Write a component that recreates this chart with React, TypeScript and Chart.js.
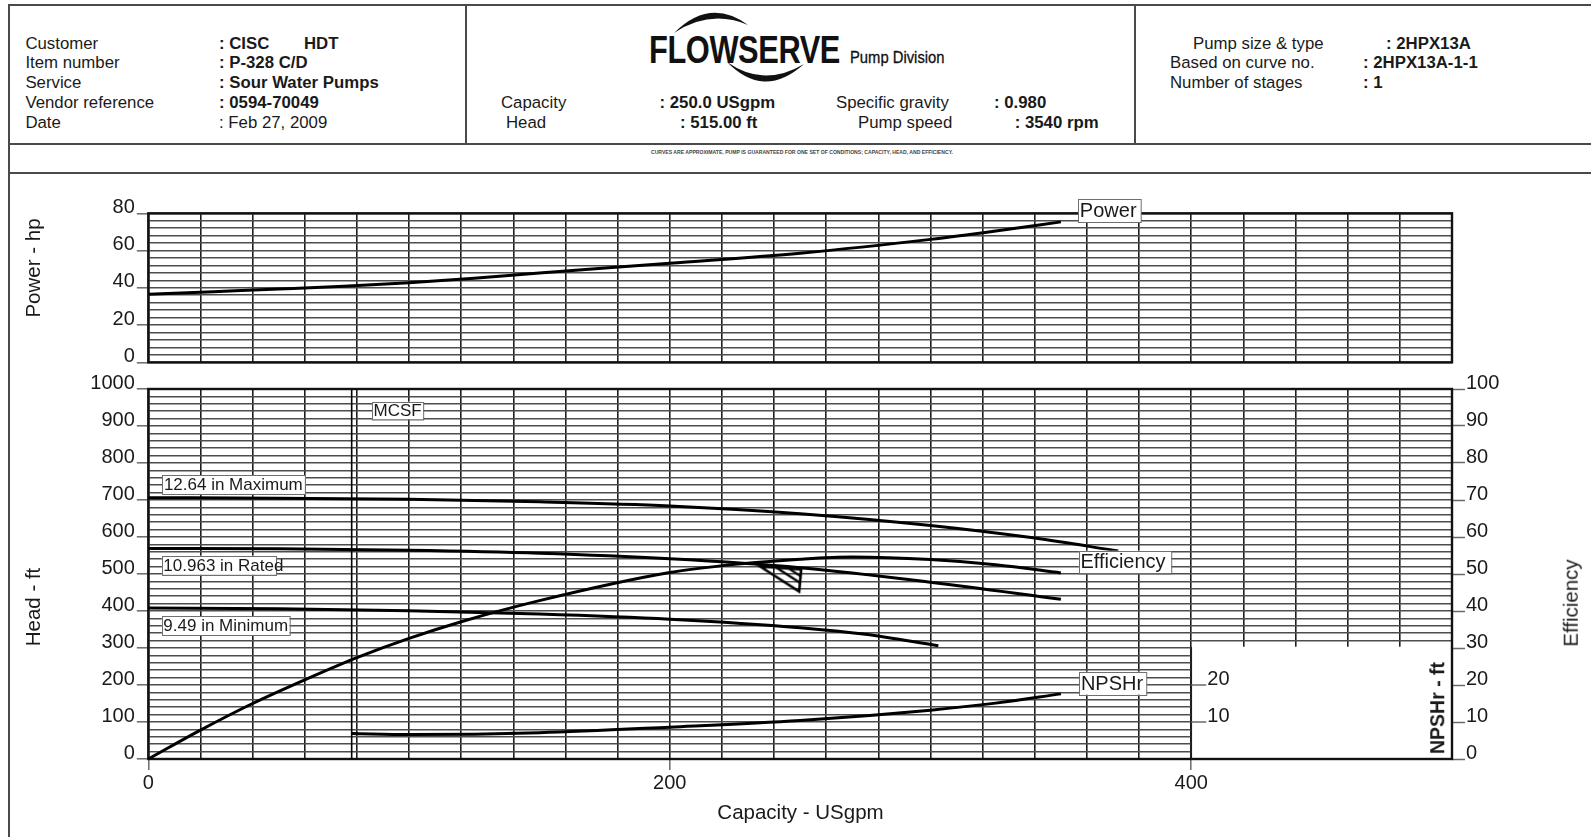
import React, { useEffect, useRef } from 'react';
import { Chart, registerables } from 'chart.js';

Chart.register(...registerables);

const FONT = '"Liberation Sans", Arial, Helvetica, sans-serif';

// ---------------- data ----------------
const powerCapacity = [0, 25, 50, 75, 100, 125, 150, 200, 250, 300, 325, 350];
const powerHp = [36.5, 37.9, 39.3, 40.8, 42.7, 45.1, 47.9, 53.2, 58.6, 66.0, 70.5, 75.4];

const maxCapacity = [0, 50, 100, 150, 200, 250, 300, 340, 372];
const maxHead = [706, 705, 702, 695, 684, 663, 631, 597, 562];

const ratedCapacity = [0, 50, 100, 150, 200, 250, 300, 350];
const ratedHead = [569, 568, 564, 556, 541, 517, 478, 432];

const minCapacity = [0, 50, 100, 150, 200, 250, 275, 303];
const minHead = [408, 406, 401, 392, 378, 355, 337, 306];

const effCapacity = [0, 20, 40, 60, 80, 100, 120, 150, 200, 225, 250, 270, 300, 325, 350];
const efficiency = [0, 7.8, 15, 21.4, 27.4, 32.6, 37.1, 42.8, 50.4, 52.6, 54.0, 54.6, 53.9, 52.5, 50.3];

const npshCapacity = [78, 100, 150, 200, 250, 300, 325, 350];
const npshr = [6.9, 6.6, 7.1, 8.6, 10.4, 13.2, 15.1, 17.6];

const mcsfCapacity = [78, 78];
const mcsfHead = [0, 1000];

const dutyCapacity = [250];
const dutyHead = [515];

const capacityTickLabels = [0, 200, 400];
const npshTickLabels = [10, 20];

// annotation boxes (anchored in data units)
const headLabelItems = [
  { text: '12.64 in Maximum', x: 5.4, y: 767.6, scaleId: 'y', size: 17, h: 19, extra: 2 },
  { text: '10.963 in Rated', x: 5.2, y: 549.5, scaleId: 'y', size: 17, h: 19, extra: -8 },
  { text: '9.49 in Minimum', x: 5.2, y: 386.5, scaleId: 'y', size: 17, h: 19, extra: 1 },
  { text: 'MCSF', x: 85.8, y: 965.7, scaleId: 'y', size: 17, h: 17.5, extra: 1 },
  { text: 'Efficiency', x: 356.9, y: 56.3, scaleId: 'eff', size: 20, h: 22.5, extra: 5 },
  { text: 'NPSHr', x: 357.1, y: 23.6, scaleId: 'eff', size: 20, h: 23, extra: 3 },
];
const powerLabelItems = [
  { text: 'Power', x: 356.7, y: 87.5, scaleId: 'y', size: 20, h: 23, extra: 4 },
];

const TXT = '#1a1a1a';
const HGRID = '#4d4d4d';
const VGRID = '#1e1e1e';
const TICK = '#6a6a6a';
const CLEAR = 'rgba(0,0,0,0)';

function pts(xs: number[], ys: number[]) {
  return xs.map((x, i) => ({ x, y: ys[i] }));
}

function makeDutyMarker() {
  const c = document.createElement('canvas');
  c.width = 100;
  c.height = 60;
  const g = c.getContext('2d') as CanvasRenderingContext2D;
  const cx = 50, cy = 30;
  const A = [cx - 40, cy - 2];
  const B = [cx + 1, cy + 1];
  const C = [cx - 1, cy + 23];
  g.strokeStyle = '#000';
  g.lineWidth = 2.6;
  g.lineJoin = 'miter';
  g.beginPath();
  g.moveTo(A[0], A[1]);
  g.lineTo(B[0], B[1]);
  g.lineTo(C[0], C[1]);
  g.closePath();
  g.stroke();
  g.lineWidth = 2.2;
  for (const t of [0.4, 0.7]) {
    const p = [A[0] + (B[0] - A[0]) * t, A[1] + (B[1] - A[1]) * t];
    const q = [C[0] + (B[0] - C[0]) * t, C[1] + (B[1] - C[1]) * t];
    g.beginPath();
    g.moveTo(p[0], p[1]);
    g.lineTo(q[0], q[1]);
    g.stroke();
  }
  return c;
}

function labelPlugin(items: any[]) {
  return {
    id: 'curveLabels',
    afterDatasetsDraw(chart: any) {
      const { ctx, scales } = chart;
      ctx.save();
      for (const l of items) {
        const x = scales.x.getPixelForValue(l.x);
        const y = scales[l.scaleId].getPixelForValue(l.y);
        ctx.font = `${l.size}px ${FONT}`;
        const tw = ctx.measureText(l.text).width;
        const w = tw + l.extra + 2;
        ctx.fillStyle = '#ffffff';
        ctx.fillRect(x, y, w, l.h);
        ctx.strokeStyle = '#6f6f6f';
        ctx.lineWidth = 1;
        ctx.strokeRect(Math.round(x) + 0.5, Math.round(y) + 0.5, w, l.h);
        ctx.fillStyle = TXT;
        ctx.textAlign = 'left';
        ctx.textBaseline = 'middle';
        ctx.fillText(l.text, x + 1.5, y + l.h / 2 + 1);
      }
      ctx.restore();
    },
  };
}

function framePlugin(withNpshBox: boolean) {
  return {
    id: 'frame',
    beforeDatasetsDraw(chart: any) {
      const { ctx, chartArea: a, scales } = chart;
      ctx.save();
      if (withNpshBox) {
        const x0 = scales.x.getPixelForValue(400);
        const y0 = scales.y.getPixelForValue(300) - 1.3;
        ctx.fillStyle = '#ffffff';
        ctx.fillRect(x0, y0, a.right - x0, a.bottom - y0);
        ctx.strokeStyle = VGRID;
        ctx.lineWidth = 1.6;
        ctx.beginPath();
        ctx.moveTo(x0, y0);
        ctx.lineTo(x0, a.bottom);
        ctx.stroke();
      }
      ctx.strokeStyle = '#111';
      ctx.lineWidth = 2.4;
      ctx.strokeRect(a.left, a.top, a.right - a.left, a.bottom - a.top);
      ctx.restore();
    },
    afterDatasetsDraw(chart: any) {
      if (!withNpshBox) return;
      const { ctx, scales } = chart;
      const x0 = scales.x.getPixelForValue(400);
      ctx.save();
      ctx.font = `20px ${FONT}`;
      ctx.fillStyle = TXT;
      ctx.textAlign = 'left';
      ctx.textBaseline = 'middle';
      for (const v of npshTickLabels) {
        const y = scales.npsh.getPixelForValue(v);
        ctx.strokeStyle = TICK;
        ctx.lineWidth = 1.5;
        ctx.beginPath();
        ctx.moveTo(x0, y);
        ctx.lineTo(x0 + 15, y);
        ctx.stroke();
        ctx.fillText(String(v), x0 + 16, y - 6);
      }
      ctx.restore();
    },
  };
}

const tickFont = { family: FONT, size: 20 };

function xScale(showLabels: boolean, height: number) {
  return {
    type: 'linear',
    position: 'bottom',
    min: 0,
    max: 500,
    afterFit: (s: any) => {
      s.height = height;
    },
    grid: {
      color: VGRID,
      lineWidth: 1.6,
      drawTicks: showLabels,
      tickLength: 11,
      tickWidth: 1.5,
      tickColor: (c: any) => (c.tick && capacityTickLabels.includes(c.tick.value) ? TICK : CLEAR),
    },
    border: { display: false },
    ticks: {
      display: showLabels,
      stepSize: 20,
      autoSkip: false,
      maxTicksLimit: 1000,
      maxRotation: 0,
      padding: 1,
      color: TXT,
      font: tickFont,
      callback: (v: any) => (capacityTickLabels.includes(v) ? String(v) : ''),
    },
  };
}

const curve = {
  borderColor: '#000',
  borderWidth: 3,
  pointRadius: 0,
  cubicInterpolationMode: 'monotone',
  fill: false,
};

function HText(props: { x: number; y: number; t: string; b?: boolean }) {
  return (
    <div
      style={{
        position: 'absolute',
        left: props.x,
        top: props.y - 10,
        lineHeight: '20px',
        fontSize: 16.8,
        fontWeight: props.b ? 700 : 400,
        whiteSpace: 'pre',
        color: TXT,
        fontFamily: FONT,
      }}
    >
      {props.t}
    </div>
  );
}

function Title(props: { x: number; y: number; t: string; rot?: boolean; size?: number; b?: boolean }) {
  return (
    <div
      style={{
        position: 'absolute',
        left: props.x,
        top: props.y,
        transform: props.rot ? 'translate(-50%,-50%) rotate(-90deg)' : 'translate(-50%,-50%)',
        whiteSpace: 'nowrap',
        fontSize: props.size ?? 20.5,
        lineHeight: 1,
        fontWeight: props.b ? 700 : 400,
        fontFamily: FONT,
        color: TXT,
      }}
    >
      {props.t}
    </div>
  );
}

function Line(props: { x: number; y: number; w: number; h: number }) {
  return (
    <div
      style={{ position: 'absolute', left: props.x, top: props.y, width: props.w, height: props.h, background: '#4a4a4a' }}
    />
  );
}

export default function App() {
  const powerRef = useRef<HTMLCanvasElement>(null);
  const headRef = useRef<HTMLCanvasElement>(null);

  useEffect(() => {
    if (!powerRef.current || !headRef.current) return;
    const marker = makeDutyMarker();

    const powerChart = new Chart(powerRef.current, {
      type: 'line',
      data: {
        datasets: [{ ...curve, label: 'Power', data: pts(powerCapacity, powerHp) } as any],
      },
      options: {
        animation: false,
        responsive: false,
        devicePixelRatio: 1,
        layout: { padding: { left: 0, right: 139, top: 33.3, bottom: 0 } },
        plugins: { legend: { display: false }, tooltip: { enabled: false } },
        scales: {
          x: xScale(false, 17.7) as any,
          y: {
            type: 'linear',
            position: 'left',
            min: 0,
            max: 80,
            afterFit: (s: any) => {
              s.width = 148.3;
            },
            grid: {
              color: HGRID,
              lineWidth: 1.6,
              tickLength: 11.5,
              tickWidth: 1.5,
              tickColor: (c: any) => (c.tick && c.tick.value % 20 === 0 ? TICK : CLEAR),
            },
            border: { display: false },
            ticks: {
              stepSize: 4,
              autoSkip: false,
              maxTicksLimit: 1000,
              padding: 2,
              labelOffset: -6,
              color: TXT,
              font: tickFont,
              callback: (v: any) => (v % 20 === 0 ? String(v) : ''),
            },
          } as any,
        },
      },
      plugins: [framePlugin(false), labelPlugin(powerLabelItems)],
    });

    const headChart = new Chart(headRef.current, {
      type: 'line',
      data: {
        datasets: [
          { ...curve, label: '12.64 in Maximum', yAxisID: 'y', data: pts(maxCapacity, maxHead) },
          { ...curve, label: '10.963 in Rated', yAxisID: 'y', data: pts(ratedCapacity, ratedHead) },
          { ...curve, label: '9.49 in Minimum', yAxisID: 'y', data: pts(minCapacity, minHead) },
          { ...curve, label: 'MCSF', yAxisID: 'y', borderWidth: 1.6, data: pts(mcsfCapacity, mcsfHead) },
          { ...curve, label: 'Efficiency', yAxisID: 'eff', data: pts(effCapacity, efficiency) },
          { ...curve, label: 'NPSHr', yAxisID: 'npsh', data: pts(npshCapacity, npshr) },
          {
            label: 'Rated point',
            yAxisID: 'y',
            data: pts(dutyCapacity, dutyHead),
            showLine: false,
            pointStyle: marker,
            pointRadius: 4,
            clip: false,
          },
        ] as any,
      },
      options: {
        animation: false,
        responsive: false,
        devicePixelRatio: 1,
        layout: { padding: { left: 0, right: 0, top: 19, bottom: 0 } },
        plugins: { legend: { display: false }, tooltip: { enabled: false } },
        scales: {
          x: xScale(true, 78) as any,
          y: {
            type: 'linear',
            position: 'left',
            min: 0,
            max: 1000,
            afterFit: (s: any) => {
              s.width = 148.3;
            },
            grid: {
              color: HGRID,
              lineWidth: 1.6,
              tickLength: 11.5,
              tickWidth: 1.5,
              tickColor: (c: any) => (c.tick && c.tick.value % 100 === 0 ? TICK : CLEAR),
            },
            border: { display: false },
            ticks: {
              stepSize: 20,
              autoSkip: false,
              maxTicksLimit: 1000,
              padding: 2,
              labelOffset: -6,
              color: TXT,
              font: tickFont,
              callback: (v: any) => (v % 100 === 0 ? String(v) : ''),
            },
          } as any,
          eff: {
            type: 'linear',
            position: 'right',
            min: 0,
            max: 100,
            afterFit: (s: any) => {
              s.width = 139;
            },
            grid: { drawOnChartArea: false, tickLength: 13, tickWidth: 1.5, tickColor: TICK },
            border: { display: false },
            ticks: {
              stepSize: 10,
              autoSkip: false,
              padding: 1,
              labelOffset: -6,
              color: TXT,
              font: tickFont,
            },
          } as any,
          npsh: { type: 'linear', display: false, min: 0, max: 100 } as any,
        },
      },
      plugins: [framePlugin(true), labelPlugin(headLabelItems)],
    });

    return () => {
      powerChart.destroy();
      headChart.destroy();
    };
  }, []);

  return (
    <div
      style={{
        position: 'fixed',
        left: 0,
        top: 0,
        width: 1591,
        height: 837,
        background: '#fff',
        overflow: 'hidden',
        fontFamily: FONT,
      }}
    >
      {/* frame of the sheet */}
      <Line x={7.5} y={3.5} w={1591} h={2} />
      <Line x={7.5} y={3.5} w={2} h={840} />
      <Line x={7.5} y={142.5} w={1591} h={2} />
      <Line x={7.5} y={171.5} w={1591} h={2} />
      <Line x={465} y={3.5} w={2} h={140} />
      <Line x={1134} y={3.5} w={2} h={140} />

      {/* left header block */}
      <HText x={25.4} y={43.6} t="Customer" />
      <HText x={25.4} y={62.9} t="Item number" />
      <HText x={25.4} y={83.2} t="Service" />
      <HText x={25.4} y={102.5} t="Vendor reference" />
      <HText x={25.4} y={122.8} t="Date" />
      <HText x={219} y={43.6} t=": CISC" b />
      <HText x={304} y={43.6} t="HDT" b />
      <HText x={219} y={62.9} t=": P-328 C/D" b />
      <HText x={219} y={83.2} t=": Sour Water Pumps" b />
      <HText x={219} y={102.5} t=": 0594-70049" b />
      <HText x={219} y={122.8} t=": Feb 27, 2009" />

      {/* logo */}
      <svg width={1591} height={170} style={{ position: 'absolute', left: 0, top: 0 }}>
        <path d="M 674 33 Q 710 -3 748 25 Q 710 9 674 33 Z" fill="#111" />
        <path d="M 727 62 Q 764 100 804 64 Q 764 88 727 62 Z" fill="#111" />
      </svg>
      <div
        style={{
          position: 'absolute',
          left: 649,
          top: 30.4,
          fontSize: 39,
          lineHeight: '39px',
          fontWeight: 700,
          whiteSpace: 'nowrap',
          transform: 'scaleX(0.79)',
          transformOrigin: 'left top',
          color: '#111',
          letterSpacing: -0.5,
        }}
      >
        FLOWSERVE
      </div>
      <div
        style={{
          position: 'absolute',
          left: 850,
          top: 48,
          fontSize: 17,
          lineHeight: '20px',
          whiteSpace: 'nowrap',
          transform: 'scaleX(0.87)',
          transformOrigin: 'left top',
          color: '#111',
          WebkitTextStroke: '0.3px #111',
        }}
      >
        Pump Division
      </div>

      {/* middle header block */}
      <HText x={501} y={102.5} t="Capacity" />
      <HText x={659.5} y={102.5} t=": 250.0 USgpm" b />
      <HText x={506} y={122.8} t="Head" />
      <HText x={680} y={122.8} t=": 515.00 ft" b />
      <HText x={836} y={102.5} t="Specific gravity" />
      <HText x={994} y={102.5} t=": 0.980" b />
      <HText x={858} y={122.8} t="Pump speed" />
      <HText x={1014.7} y={122.8} t=": 3540 rpm" b />

      {/* right header block */}
      <HText x={1193} y={43.6} t="Pump size & type" />
      <HText x={1386} y={43.6} t=": 2HPX13A" b />
      <HText x={1170} y={62.9} t="Based on curve no." />
      <HText x={1363} y={62.9} t=": 2HPX13A-1-1" b />
      <HText x={1170} y={83.2} t="Number of stages" />
      <HText x={1363} y={83.2} t=": 1" b />

      {/* fine print */}
      <div
        style={{
          position: 'absolute',
          left: 651,
          top: 148.5,
          width: 295,
          textAlign: 'center',
          whiteSpace: 'nowrap',
          fontSize: 5.1,
          lineHeight: '6px',
          fontWeight: 700,
          color: '#444',
        }}
      >
        CURVES ARE APPROXIMATE, PUMP IS GUARANTEED FOR ONE SET OF CONDITIONS; CAPACITY, HEAD, AND EFFICIENCY.
      </div>

      {/* charts */}
      <canvas
        ref={powerRef}
        width={1591}
        height={200}
        style={{ position: 'absolute', left: 0, top: 180, width: 1591, height: 200 }}
      />
      <canvas
        ref={headRef}
        width={1591}
        height={467}
        style={{ position: 'absolute', left: 0, top: 370, width: 1591, height: 467 }}
      />

      {/* axis titles */}
      <Title x={32.5} y={268} t="Power - hp" rot />
      <Title x={32.5} y={607} t="Head - ft" rot />
      <Title x={1570.5} y={603} t="Efficiency" rot />
      <Title x={1438} y={708} t="NPSHr - ft" rot size={19.5} b />
      <Title x={800.5} y={812} t="Capacity - USgpm" />
    </div>
  );
}
